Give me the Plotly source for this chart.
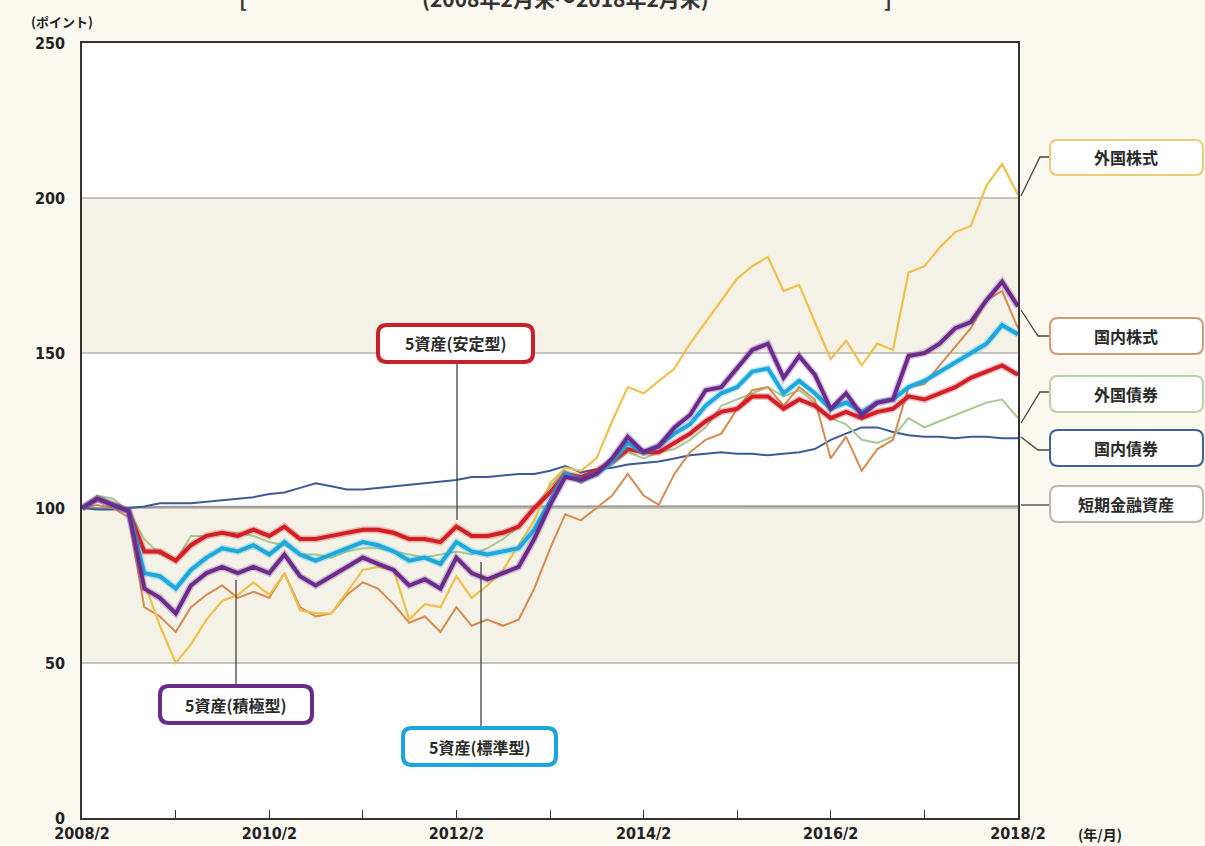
import pandas as pd
import plotly.graph_objects as go

# ---- data (bi-monthly, 2008/2 .. 2018/2) ----
dates = pd.date_range(start="2008-02-01", periods=61, freq="2MS")

foreign_stocks = [100, 104, 101, 99, 76, 62, 50, 56, 64, 70, 72, 76, 72, 79, 67, 66, 66, 73, 80, 81,
                  80, 64, 69, 68, 78, 71, 75, 80, 88, 96, 108, 113, 112, 116, 128, 139, 137, 141, 145, 153,
                  160, 167, 174, 178, 181, 170, 172, 160, 148, 154, 146, 153, 151, 176, 178, 184, 189, 191, 204, 211, 201]
domestic_stocks = [100, 101, 100, 97, 68, 65, 60, 68, 72, 75, 71, 73, 71, 79, 68, 65, 66, 72, 76, 74,
                   69, 63, 65, 60, 68, 62, 64, 62, 64, 74, 87, 98, 96, 100, 104, 111, 104, 101, 111, 118,
                   122, 124, 132, 138, 139, 133, 139, 135, 116, 123, 112, 119, 122, 139, 140, 146, 152, 158, 167, 170, 158]
foreign_bonds = [100, 104, 103, 99, 90, 85, 83, 91, 91, 92, 92, 91, 89, 88, 85, 85, 84, 86, 87, 87,
                 86, 85, 84, 85, 86, 85, 87, 90, 94, 100, 107, 112, 108, 111, 114, 118, 116, 118, 119, 122,
                 126, 133, 135, 137, 139, 136, 138, 134, 129, 127, 122, 121, 123, 129, 126, 128, 130, 132, 134, 135, 129]
domestic_bonds = [100, 99.5, 99.5, 100, 100.5, 101.5, 101.5, 101.5, 102, 102.5, 103, 103.5, 104.5, 105, 106.5, 108, 107, 106, 106, 106.5,
                  107, 107.5, 108, 108.5, 109, 110, 110, 110.5, 111, 111, 112, 113.5, 111.5, 112.5, 113, 114, 114.5, 115, 116, 117,
                  117.5, 118, 117.5, 117.5, 117, 117.5, 118, 119, 122, 124, 126, 126, 124.5, 123.5, 123, 123, 122.5, 123, 123, 122.5, 122.5]
short_term = [100, 100.1, 100.2, 100.3, 100.3, 100.4, 100.4, 100.4, 100.4, 100.5, 100.5, 100.5, 100.5, 100.5, 100.5, 100.5, 100.5, 100.5, 100.5, 100.5,
              100.5, 100.5, 100.5, 100.5, 100.6, 100.6, 100.6, 100.6, 100.6, 100.6, 100.6, 100.6, 100.6, 100.6, 100.6, 100.6, 100.6, 100.6, 100.6, 100.6,
              100.6, 100.6, 100.6, 100.6, 100.6, 100.6, 100.6, 100.6, 100.6, 100.6, 100.6, 100.6, 100.6, 100.6, 100.6, 100.6, 100.6, 100.6, 100.6, 100.6, 100.6]
stable = [100, 103, 101, 99, 86, 86, 83, 88, 91, 92, 91, 93, 91, 94, 90, 90, 91, 92, 93, 93,
          92, 90, 90, 89, 94, 91, 91, 92, 94, 100, 105, 111, 110, 112, 115, 119, 118, 118, 121, 124,
          128, 131, 132, 136, 136, 132, 135, 133, 129, 131, 129, 131, 132, 136, 135, 137, 139, 142, 144, 146, 143]
standard = [100, 103, 101, 99, 79, 78, 74, 80, 84, 87, 86, 88, 85, 89, 85, 83, 85, 87, 89, 88,
            86, 83, 84, 82, 89, 86, 85, 86, 87, 93, 102, 111, 109, 111, 115, 121, 118, 120, 124, 127,
            133, 137, 139, 144, 145, 137, 141, 137, 132, 134, 131, 134, 135, 139, 141, 144, 147, 150, 153, 159, 156]
aggressive = [100, 103, 101, 99, 74, 71, 66, 75, 79, 81, 79, 81, 79, 85, 78, 75, 78, 81, 84, 82,
              80, 75, 77, 74, 84, 79, 77, 79, 81, 90, 101, 110, 109, 111, 116, 123, 118, 120, 126, 130,
              138, 139, 145, 151, 153, 142, 149, 143, 132, 137, 130, 134, 135, 149, 150, 153, 158, 160, 167, 173, 165]

tick_dates = pd.date_range(start="2008-02-01", periods=11, freq="12MS")
tick_text = ["2008/2", "", "2010/2", "", "2012/2", "", "2014/2", "", "2016/2", "", "2018/2"]
y_ticks = [0, 50, 100, 150, 200, 250]

thin_series = [
    ("短期金融資産", short_term, "#9a9a96", 2),
    ("国内債券", domestic_bonds, "#3b5a9a", 2),
    ("外国債券", foreign_bonds, "#a6c892", 2),
    ("国内株式", domestic_stocks, "#d88a4e", 2),
    ("外国株式", foreign_stocks, "#f0c04a", 2.2),
]
thick_series = [
    ("5資産(安定型)", stable, "#d21f26", "rgba(210,31,38,0.28)"),
    ("5資産(標準型)", standard, "#1da8dd", "rgba(29,168,221,0.28)"),
    ("5資産(積極型)", aggressive, "#6b2a8c", "rgba(107,42,140,0.28)"),
]

fig = go.Figure()
for name, vals, col, w in thin_series:
    fig.add_trace(go.Scatter(x=dates, y=vals, mode="lines", name=name,
                             line=dict(color=col, width=w), showlegend=False))
for name, vals, col, halo in thick_series:
    fig.add_trace(go.Scatter(x=dates, y=vals, mode="lines", name=name + " halo",
                             line=dict(color=halo, width=7), showlegend=False, hoverinfo="skip"))
    fig.add_trace(go.Scatter(x=dates, y=vals, mode="lines", name=name,
                             line=dict(color=col, width=4), showlegend=False))

# ---- geometry helpers (pixel -> paper) ----
L, R, T, B = 82, 1018, 43, 818
def px(x):
    return (x - L) / (R - L)
def py(y):
    return (B - y) / (B - T)

def rounded_box(x0, y0, x1, y1, r, border, width):
    rx, ry = r / (R - L), r / (B - T)
    X0, X1, Y0, Y1 = px(x0), px(x1), py(y1), py(y0)
    path = (f"M {X0+rx},{Y0} L {X1-rx},{Y0} Q {X1},{Y0} {X1},{Y0+ry} "
            f"L {X1},{Y1-ry} Q {X1},{Y1} {X1-rx},{Y1} L {X0+rx},{Y1} "
            f"Q {X0},{Y1} {X0},{Y1-ry} L {X0},{Y0+ry} Q {X0},{Y0} {X0+rx},{Y0} Z")
    return dict(type="path", xref="paper", yref="paper", path=path,
                fillcolor="white", line=dict(color=border, width=width), layer="above")

def poly(points, color="#444", width=1.3):
    path = "M " + " L ".join(f"{px(a)},{py(b)}" for a, b in points)
    return dict(type="path", xref="paper", yref="paper", path=path,
                line=dict(color=color, width=width), layer="above")

shapes = []
for lo, hi in [(50, 100), (150, 200)]:
    shapes.append(dict(type="rect", xref="paper", yref="y", x0=0, x1=1, y0=lo, y1=hi,
                       fillcolor="#f4f2e6", line=dict(width=0), layer="below"))
for g in [50, 100, 150, 200]:
    shapes.append(dict(type="line", xref="paper", yref="y", x0=0, x1=1, y0=g, y1=g,
                       line=dict(color="#b4b2aa", width=1.5), layer="below"))

shapes += [
    poly([(457, 362), (457, 520)]),
    poly([(236, 686), (236, 580)]),
    poly([(481, 728), (481, 562)]),
    poly([(1021, 196), (1040, 157), (1050, 157)]),
    poly([(1021, 310), (1038, 336), (1050, 336)]),
    poly([(1021, 423), (1040, 392), (1050, 392)]),
    poly([(1021, 437), (1038, 450), (1050, 450)]),
    poly([(1021, 505), (1050, 505)]),
]

right_boxes = [
    ("外国株式", 140, 175, "#ebcd78"),
    ("国内株式", 318, 354, "#d39a74"),
    ("外国債券", 376, 412, "#b9d0ab"),
    ("国内債券", 430, 466, "#3f5f9e"),
    ("短期金融資産", 486, 522, "#b8b8b0"),
]
for txt, y0, y1, col in right_boxes:
    shapes.append(rounded_box(1050, y0, 1203, y1, 8, col, 2))
inner_boxes = [
    ("5資産(安定型)", 378, 325, 533, 362, "#c8202a"),
    ("5資産(積極型)", 160, 686, 312, 723, "#6a2a88"),
    ("5資産(標準型)", 403, 728, 556, 765, "#1ba5dc"),
]
for txt, x0, y0, x1, y1, col in inner_boxes:
    shapes.append(rounded_box(x0, y0, x1, y1, 9, col, 4))

jp = "Noto Sans CJK JP"
annotations = []
for txt, y0, y1, col in right_boxes:
    annotations.append(dict(x=px(1126), y=py((y0 + y1) / 2), xref="paper", yref="paper",
                            text="<b>" + txt + "</b>", showarrow=False,
                            font=dict(family=jp, size=16, color="#2a2a2a"),
                            xanchor="center", yanchor="middle"))
for txt, x0, y0, x1, y1, col in inner_boxes:
    annotations.append(dict(x=px((x0 + x1) / 2), y=py((y0 + y1) / 2), xref="paper", yref="paper",
                            text="<b>" + txt + "</b>", showarrow=False,
                            font=dict(family=jp, size=16, color="#2a2a2a"),
                            xanchor="center", yanchor="middle"))
annotations += [
    dict(x=px(62), y=py(22), xref="paper", yref="paper", text="<b>(ポイント)</b>", showarrow=False,
         font=dict(family=jp, size=13, color="#222"), xanchor="center", yanchor="middle"),
    dict(x=px(1100), y=py(834), xref="paper", yref="paper", text="<b>(年/月)</b>", showarrow=False,
         font=dict(family=jp, size=14, color="#222"), xanchor="center", yanchor="middle"),
    dict(x=px(565), y=py(-2), xref="paper", yref="paper", text="<b>(2008年2月末～2018年2月末)</b>",
         showarrow=False, font=dict(family=jp, size=21, color="#333"), xanchor="center", yanchor="middle"),
    dict(x=px(243), y=py(-2), xref="paper", yref="paper", text="<b>[</b>", showarrow=False,
         font=dict(family=jp, size=21, color="#333"), xanchor="center", yanchor="middle"),
    dict(x=px(888), y=py(-2), xref="paper", yref="paper", text="<b>]</b>", showarrow=False,
         font=dict(family=jp, size=21, color="#333"), xanchor="center", yanchor="middle"),
]

tickfont = dict(family="DejaVu Sans Condensed, Liberation Sans Narrow, sans-serif", size=16,
                color="#222", weight="bold")
fig.update_layout(
    width=1205, height=846,
    margin=dict(l=L, r=1205 - R, t=T, b=846 - B, autoexpand=False),
    paper_bgcolor="#faf8ef", plot_bgcolor="white",
    shapes=shapes, annotations=annotations, showlegend=False,
    xaxis=dict(type="date", range=[dates[0], dates[-1]], tickvals=tick_dates, ticktext=tick_text,
               ticks="inside", ticklen=8, tickcolor="#333", tickwidth=1.3,
               showline=True, linecolor="#333", linewidth=1.5, mirror=True,
               showgrid=False, tickfont=tickfont, zeroline=False),
    yaxis=dict(range=[0, 250], tickvals=y_ticks, ticks="", showgrid=False, zeroline=False,
               showline=True, linecolor="#333", linewidth=1.5, mirror=True,
               tickfont=tickfont, ticklabelstandoff=12),
)

fig.write_html("out.html", config={"displayModeBar": False},
               post_script="document.body.style.margin='0px';document.body.style.overflow='hidden';"
                           "document.body.style.background='#faf8ef';")
